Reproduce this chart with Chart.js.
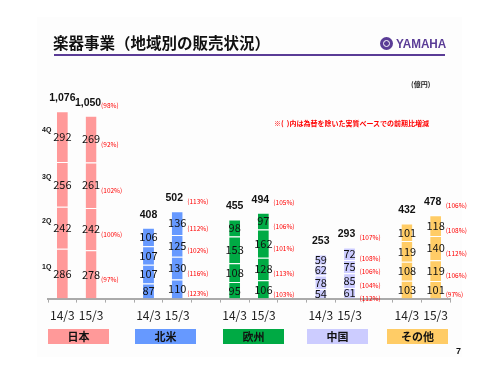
<!DOCTYPE html>
<html>
<head>
<meta charset="utf-8">
<script src="https://cdn.jsdelivr.net/npm/chart.js@4.4.1/dist/chart.umd.min.js"></script>
<style>
  html, body { margin: 0; padding: 0; background: #fff; }
  #wrap { position: relative; width: 500px; height: 375px; overflow: hidden; font-family: "Noto Sans CJK JP", "Noto Sans", sans-serif; }
  #slide { position: absolute; left: 37px; top: 17px; width: 425px; height: 340px; background: #fdfdfd; }
  #chart { position: absolute; left: 0; top: 0; }
  .txt { position: absolute; white-space: nowrap; line-height: 1; }
  #title { left: 53px; top: 35px; font-size: 15.5px; font-weight: bold; color: #111; }
  #rule { position: absolute; left: 54px; top: 54px; width: 391px; height: 2px; background: #5a3c96; }
  #emblem { position: absolute; left: 380px; top: 37px; width: 13px; height: 13px; border-radius: 50%; background: #5a3c96; }
  #emblem:after { content: ""; position: absolute; left: 3px; top: 3px; width: 5px; height: 5px; border-radius: 50%; border: 1px solid #fff; }
  #logo { left: 396px; top: 37px; font-size: 13px; font-weight: bold; color: #5a3c96; font-family: "Liberation Sans", Arial, sans-serif; transform: scaleX(0.9); transform-origin: left top; }
  #unit { left: 411px; top: 81px; font-size: 7px; font-weight: bold; color: #222; }
  #note { left: 274px; top: 120px; font-size: 7px; font-weight: bold; color: #ff0000; }
  #page { left: 456px; top: 347px; font-size: 9px; font-weight: bold; color: #111; font-family: "Liberation Sans", Arial, sans-serif; }
  .box { position: absolute; top: 329px; width: 61px; height: 15px; line-height: 15px; text-align: center; font-size: 11px; font-weight: bold; color: #111; }
</style>
</head>
<body>
<div id="wrap">
  <div id="slide"></div>
  <canvas id="chart" width="500" height="375"></canvas>
  <div class="txt" id="title">楽器事業（地域別の販売状況）</div>
  <div id="rule"></div>
  <div id="emblem"></div>
  <div class="txt" id="logo">YAMAHA</div>
  <div class="txt" id="unit">(億円)</div>
  <div class="txt" id="note">※(&nbsp;&nbsp;)内は為替を除いた実質ベースでの前期比増減</div>
  <div class="txt" id="page">7</div>
</div>
<script>
// regions and fiscal years
const regions = ['日本', '北米', '欧州', '中国', 'その他'];
const region_colors = ['#ff9999', '#6699ff', '#00aa44', '#ccccff', '#ffcc66'];
const years = ['14/3', '15/3'];
const quarters = ['1Q', '2Q', '3Q', '4Q'];

// sales by quarter, order: 日本14,日本15, 北米14,北米15, 欧州14,欧州15, 中国14,中国15, その他14,その他15
const q1 = [286, 278, 87, 110, 95, 106, 54, 61, 103, 101];
const q2 = [242, 242, 107, 130, 108, 128, 78, 85, 108, 119];
const q3 = [256, 261, 107, 125, 153, 162, 62, 75, 119, 140];
const q4 = [292, 269, 106, 136, 98, 97, 59, 72, 101, 118];
const totals = [1076, 1050, 408, 502, 455, 494, 253, 293, 432, 478];

// growth excl. FX for 15/3, per region
const pct_q1 = [97, 123, 103, 112, 97];
const pct_q2 = [100, 116, 113, 104, 106];
const pct_q3 = [102, 102, 101, 106, 112];
const pct_q4 = [92, 112, 106, 108, 108];
const pct_total = [98, 113, 105, 107, 106];

const box_left = [48, 135, 223, 307, 387];

// build 14 slots: two years per region plus a gap between regions
let labels = [];
let slot_of = [];   // slot index for each value index
regions.forEach(function(r, ri) {
    years.forEach(function(y) {
        slot_of.push(labels.length);
        labels.push(y);
    });
    if (ri < regions.length - 1) labels.push('');
});

function spread(arr) {
    let out = new Array(labels.length).fill(null);
    arr.forEach(function(v, i) { out[slot_of[i]] = v; });
    return out;
}
let slot_colors = new Array(labels.length).fill('#fff');
slot_of.forEach(function(s, i) { slot_colors[s] = region_colors[Math.floor(i / 2)]; });

const q_data = [q1, q2, q3, q4];
const pct_data = [pct_q1, pct_q2, pct_q3, pct_q4];

let datasets = quarters.map(function(q, qi) {
    return {
        label: q,
        data: spread(q_data[qi]),
        backgroundColor: slot_colors,
        borderColor: '#ffffff',
        borderWidth: {top: 1, left: 0, right: 0, bottom: 0},
        borderSkipped: false,
        barPercentage: 0.38,
        categoryPercentage: 1.0
    };
});

function fmt(n) {
    return n.toLocaleString('en-US');
}

const labelPlugin = {
    id: 'labelPlugin',
    afterDatasetsDraw: function(chart) {
        const ctx = chart.ctx;
        ctx.save();
        ctx.textBaseline = 'middle';
        slot_of.forEach(function(s, i) {
            const ri = Math.floor(i / 2);
            const is_new = (i % 2) == 1;
            let top_y = null, cx = null;
            quarters.forEach(function(q, qi) {
                const bar = chart.getDatasetMeta(qi).data[s];
                const cy = (bar.y + bar.base) / 2;
                cx = bar.x;
                top_y = bar.y;
                ctx.fillStyle = '#111';
                ctx.font = '11px "Noto Sans CJK JP", sans-serif';
                ctx.textAlign = 'center';
                ctx.fillText(String(q_data[qi][i]), bar.x, cy);
                if (is_new) {
                    ctx.fillStyle = '#ff0000';
                    ctx.font = '6.5px "Noto Sans CJK JP", sans-serif';
                    ctx.textAlign = 'left';
                    ctx.fillText('(' + pct_data[qi][ri] + '%)', bar.x + 10, cy + 5);
                }
                // quarter names beside the first bar
                if (i == 0) {
                    ctx.fillStyle = '#111';
                    ctx.font = 'bold 7px "Liberation Sans", sans-serif';
                    ctx.textAlign = 'right';
                    ctx.fillText(q, bar.x - 11, cy - 7);
                }
            });
            ctx.fillStyle = '#111';
            ctx.font = 'bold 10.5px "Liberation Sans", sans-serif';
            ctx.textAlign = 'center';
            ctx.fillText(fmt(totals[i]), cx - (is_new ? 3 : 0), top_y - 13);
            if (is_new) {
                ctx.fillStyle = '#ff0000';
                ctx.font = '6.5px "Noto Sans CJK JP", sans-serif';
                ctx.textAlign = 'left';
                ctx.fillText('(' + pct_total[ri] + '%)', cx + 10, top_y - 10);
            }
        });
        ctx.restore();
    }
};

new Chart(document.getElementById('chart'), {
    type: 'bar',
    data: { labels: labels, datasets: datasets },
    options: {
        responsive: false,
        animation: false,
        layout: { padding: { left: 48, right: 50, top: 107, bottom: 46 } },
        plugins: { legend: { display: false }, tooltip: { enabled: false } },
        scales: {
            x: {
                stacked: true,
                offset: true,
                grid: { display: true, offset: true, drawOnChartArea: false, drawTicks: true, tickLength: 4, color: '#aaaaaa' },
                border: { display: true, color: '#aaaaaa', width: 2 },
                ticks: { color: '#222', font: { size: 12, family: '"Noto Sans CJK JP", sans-serif' }, padding: 6, autoSkip: false, maxRotation: 0 }
            },
            y: {
                stacked: true,
                display: false,
                min: 0,
                max: 1100
            }
        }
    },
    plugins: [labelPlugin]
});

// region name boxes under the axis
regions.forEach(function(r, ri) {
    let d = document.createElement('div');
    d.className = 'box';
    d.style.left = box_left[ri] + 'px';
    d.style.background = region_colors[ri];
    d.textContent = r;
    document.getElementById('wrap').appendChild(d);
});
</script>
</body>
</html>
